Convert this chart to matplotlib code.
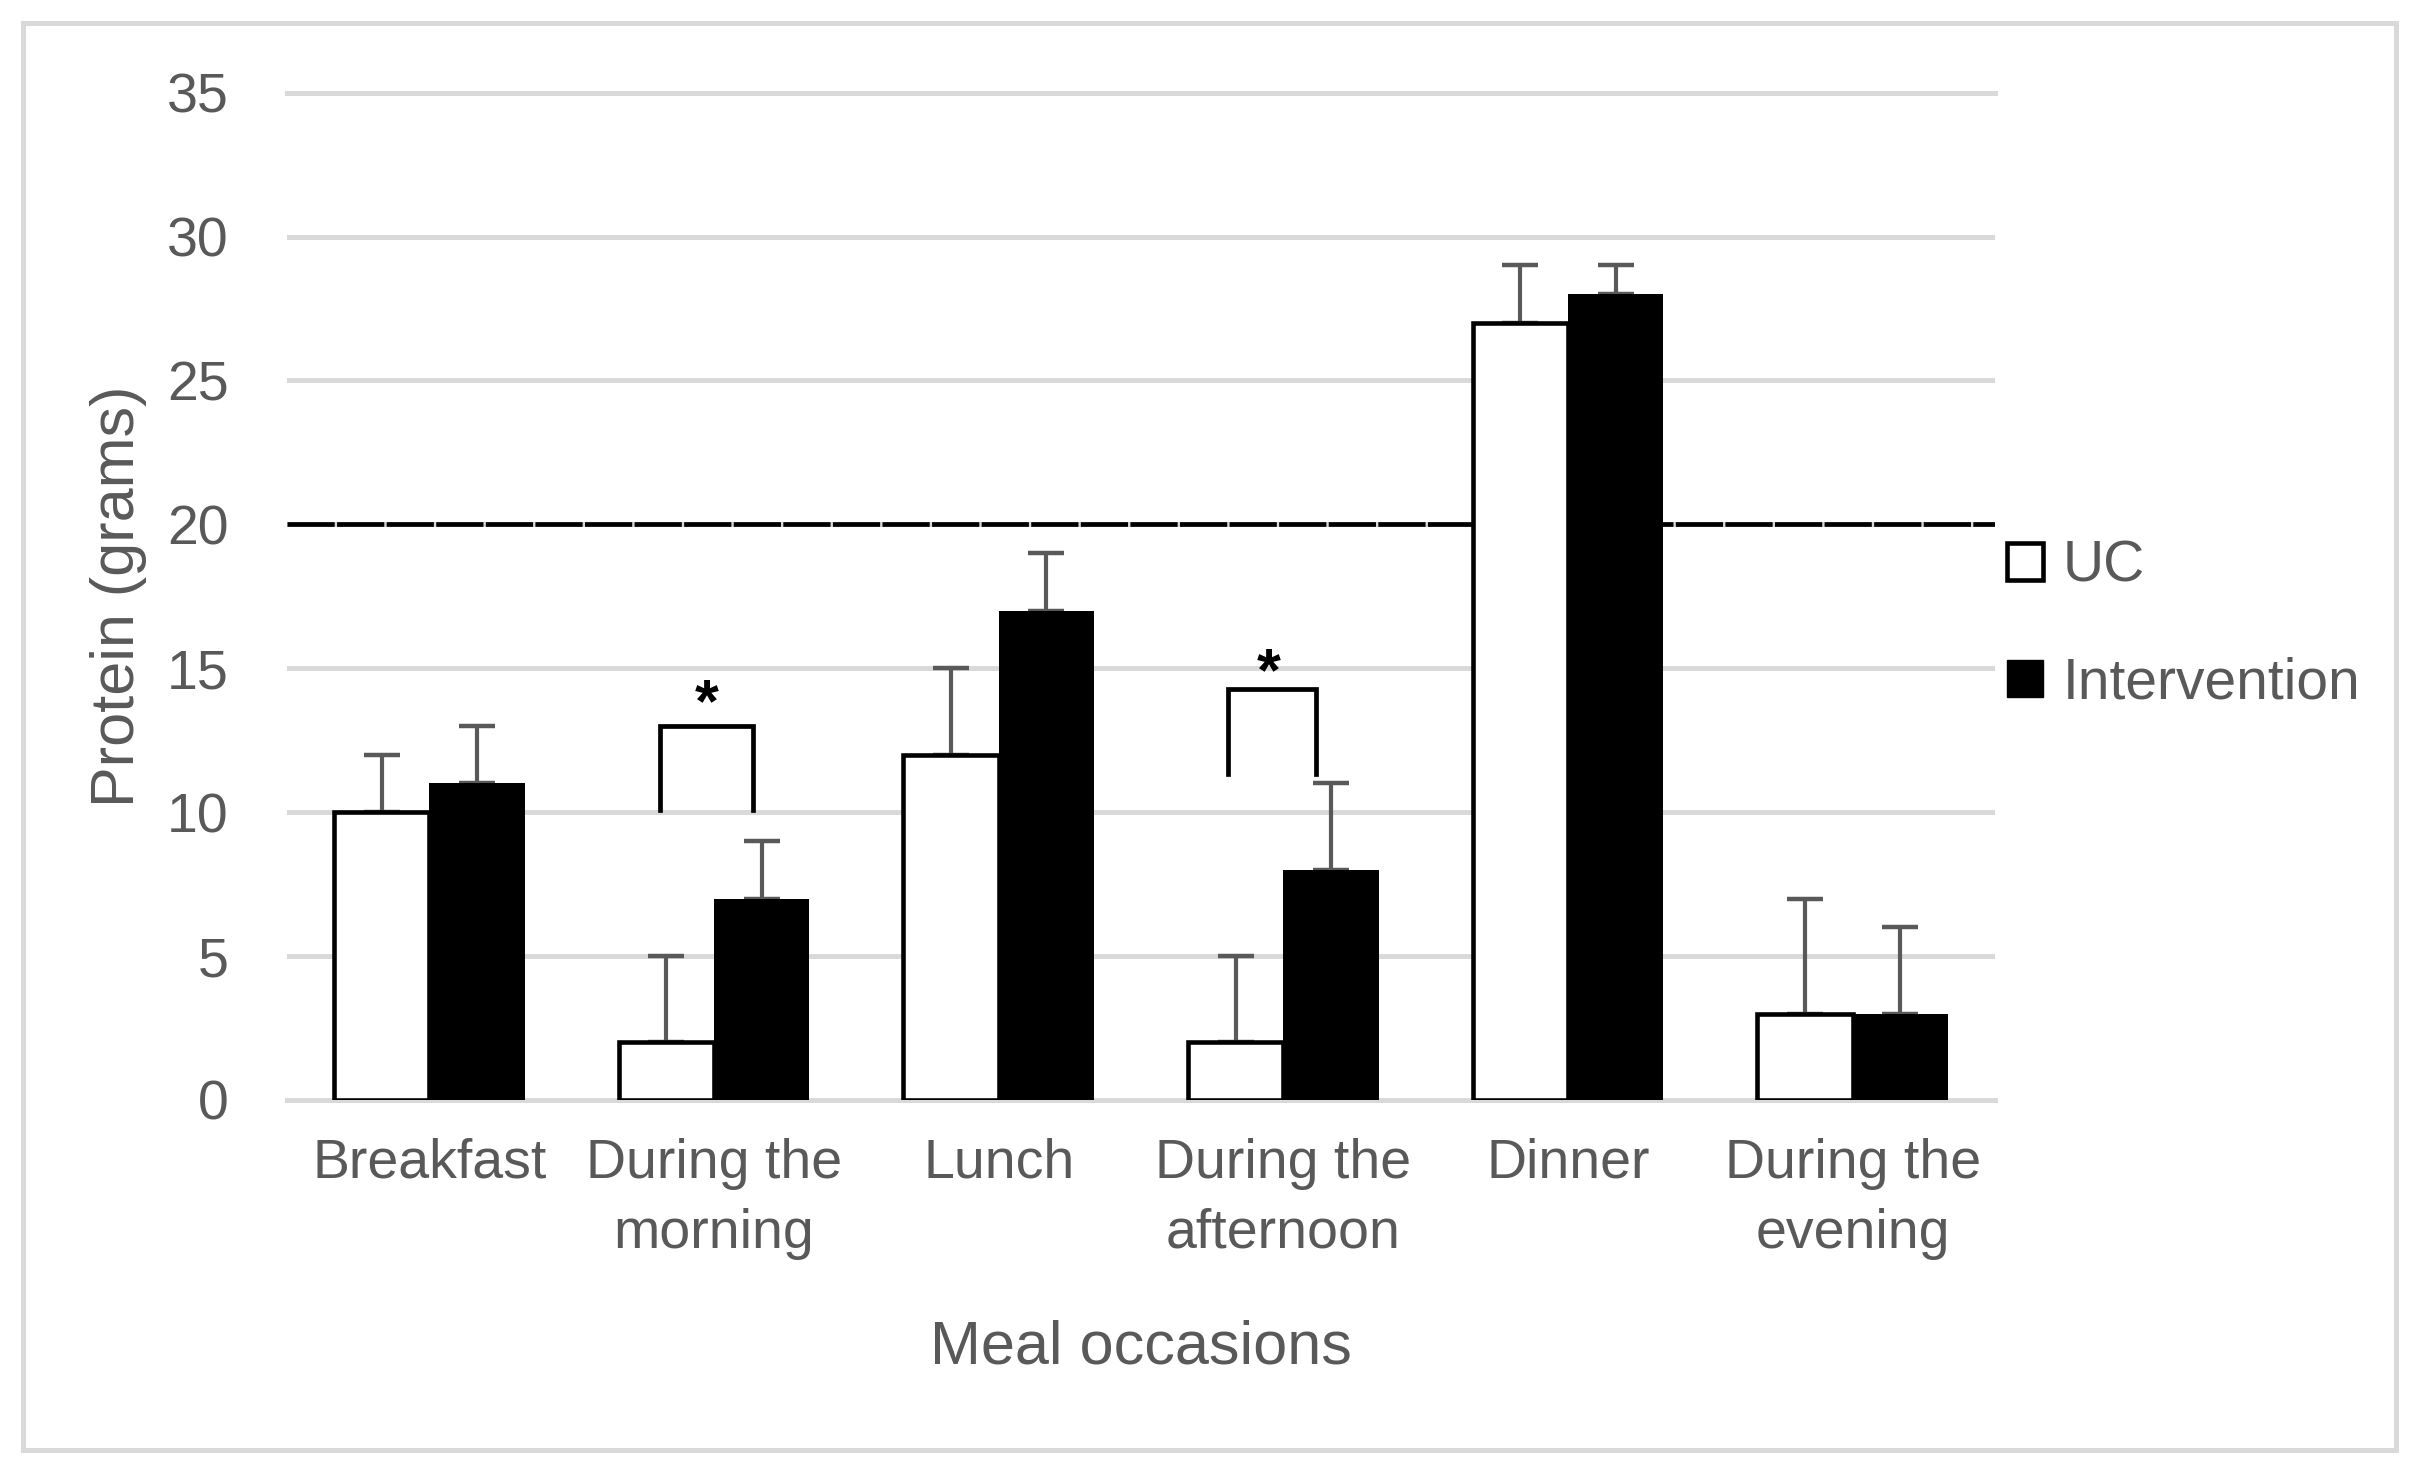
import numpy as np
import matplotlib
matplotlib.use("Agg")
import matplotlib.pyplot as plt
from matplotlib.patches import Patch, Rectangle

plt.rcParams['font.family'] = ['Liberation Sans', 'DejaVu Sans']

# data
meals = ['Breakfast', 'During the\nmorning', 'Lunch', 'During the\nafternoon',
         'Dinner', 'During the\nevening']
uc_mean = [10, 2, 12, 2, 27, 3]
uc_err = [2, 3, 3, 3, 2, 4]
int_mean = [11, 7, 17, 8, 28, 3]
int_err = [2, 2, 2, 3, 1, 3]
target = 20

# significance brackets: (x left, x right, y top, y legs)
brackets = [(0.81, 1.137, 13.0, 10.08), (2.807, 3.114, 14.28, 11.33)]
stars = [(0.975, 13.15), (2.949, 14.23)]

txt = '#595959'
grid_c = '#d9d9d9'

fig = plt.figure(figsize=(24.19, 14.74), dpi=100)
ax = fig.add_axes([287 / 2419, 1 - 1100 / 1474, (1995 - 287) / 2419, (1100 - 92.6) / 1474])

x = np.arange(len(meals))
w = 0.335
ax.bar(x - w / 2, uc_mean, w, color='white', edgecolor='black', linewidth=3.3, zorder=3)
ax.bar(x + w / 2, int_mean, w, color='black', edgecolor='black', linewidth=0, zorder=3)
ax.errorbar(x - w / 2, uc_mean, yerr=[np.zeros(len(x)), uc_err], fmt='none',
            ecolor=txt, elinewidth=3, capsize=13, capthick=3.2, zorder=2)
ax.errorbar(x + w / 2, int_mean, yerr=[np.zeros(len(x)), int_err], fmt='none',
            ecolor=txt, elinewidth=3, capsize=13, capthick=3.2, zorder=2)

ax.axhline(target, color='black', linewidth=3.4, dashes=(10, 0.5), zorder=2.5)

for x0, x1, yt, yb in brackets:
    ax.plot([x0, x0, x1, x1], [yb, yt, yt, yb], color='black', linewidth=3.4,
            solid_joinstyle='miter', zorder=4)
for sx, sy in stars:
    ax.text(sx, sy, '*', ha='center', va='baseline', fontsize=44,
            fontweight='bold', color='black', zorder=4)

ax.set_xlim(-0.5, 5.5)
ax.set_ylim(0, 35)
ax.set_yticks(range(0, 36, 5))
ax.set_xticks(x)
ax.set_xticklabels(meals, linespacing=1.45)
ax.tick_params(axis='y', length=0, pad=42, labelsize=40, labelcolor=txt)
ax.tick_params(axis='x', length=0, pad=27, labelsize=40, labelcolor=txt)
ax.set_axisbelow(True)
ax.yaxis.grid(True, color=grid_c, linewidth=3.6)
for s in ['left', 'right']:
    ax.spines[s].set_visible(False)
for s in ['top', 'bottom']:
    ax.spines[s].set_color(grid_c)
    ax.spines[s].set_linewidth(3.6)

ax.set_ylabel('Protein (grams)', fontsize=44, color=txt)
ax.yaxis.set_label_coords(-0.082, 0.5)
fig.text(1141 / 2419, 1 - 1364 / 1474, 'Meal occasions', ha='center',
         va='baseline', fontsize=44, color=txt)

handles = [Patch(facecolor='white', edgecolor='black', linewidth=3.3),
           Patch(facecolor='black', edgecolor='black')]
ax.legend(handles, ['UC', 'Intervention'], loc='center left',
          bbox_to_anchor=(2007 / 2419, 1 - 625 / 1474), bbox_transform=fig.transFigure,
          frameon=False, fontsize=41, labelcolor=txt, handlelength=0.63,
          handleheight=0.63, handletextpad=0.35, labelspacing=1.1,
          borderpad=0, borderaxespad=0)

fig.patches.append(Rectangle((23 / 2419, 1 - 1450 / 1474), (2396 - 23) / 2419,
                             (1450 - 23) / 1474, transform=fig.transFigure,
                             fill=False, edgecolor=grid_c, linewidth=3.6))

fig.savefig('out.png', dpi=100, facecolor='white')
